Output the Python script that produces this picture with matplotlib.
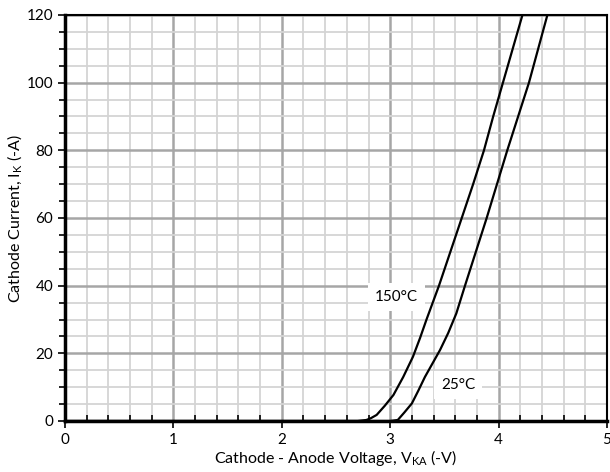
import numpy as np
from matplotlib import pyplot as plt
from matplotlib.ticker import MultipleLocator

# 150 °C curve
v_150 = [0.0, 2.70, 2.78, 2.82, 2.875, 2.95, 3.03, 3.12, 3.21, 3.275, 3.335, 3.45,
         3.555, 3.66, 3.765, 3.865, 3.95, 4.04, 4.13, 4.22]
i_150 = [0.0, 0.0, 0.3, 0.8, 1.8, 4.5, 7.7, 13.0, 19.0, 24.5, 30.0, 40.0,
         50.0, 60.0, 70.0, 80.0, 90.0, 100.0, 110.0, 120.0]

# 25 °C curve
v_25 = [0.0, 3.00, 3.07, 3.13, 3.20, 3.26, 3.32, 3.39, 3.46, 3.535, 3.61, 3.69,
        3.79, 3.89, 3.985, 4.08, 4.18, 4.28, 4.365, 4.45]
i_25 = [0.0, 0.0, 0.3, 2.5, 5.2, 9.0, 13.0, 17.0, 21.0, 26.0, 31.8, 40.0,
        50.0, 60.0, 70.0, 80.0, 90.0, 100.0, 110.0, 120.0]

plt.rcParams['font.family'] = ['Lato', 'DejaVu Sans']
plt.rcParams['mathtext.fontset'] = 'custom'
plt.rcParams['mathtext.rm'] = 'Lato'

fig = plt.figure(figsize=(6.1, 4.72), dpi=100)
ax = fig.add_axes([65 / 610, 51 / 472, 542 / 610, 406 / 472])

ax.plot(v_150, i_150, color='black', lw=1.6, zorder=3)
ax.plot(v_25, i_25, color='black', lw=1.6, zorder=3)

ax.set_xlim(0, 5)
ax.set_ylim(0, 120)
ax.xaxis.set_major_locator(MultipleLocator(1))
ax.xaxis.set_minor_locator(MultipleLocator(0.2))
ax.yaxis.set_major_locator(MultipleLocator(20))
ax.yaxis.set_minor_locator(MultipleLocator(5))

# сетка
ax.grid(True, which='major', color='#a6a6a6', lw=1.8, zorder=1)
ax.grid(True, which='minor', color='#d4d4d4', lw=1.3, zorder=0)
ax.set_axisbelow(True)

for side in ['left', 'bottom']:
    ax.spines[side].set_linewidth(2.5)
for side in ['top', 'right']:
    ax.spines[side].set_linewidth(1.5)

ax.tick_params(which='both', direction='out', color='black', width=1.2, labelsize=11)
ax.tick_params(which='major', length=5)
ax.tick_params(which='minor', length=4)
ax.tick_params(axis='x', which='minor', direction='in')

ax.text(3.06, 36.7, '150°C', fontsize=11, ha='center', va='center',
        bbox=dict(facecolor='white', edgecolor='none', pad=5), zorder=4)
ax.text(3.63, 10.6, '25°C', fontsize=11, ha='center', va='center',
        bbox=dict(facecolor='white', edgecolor='none', pad=5), zorder=4)

ax.set_xlabel(r'Cathode - Anode Voltage, V$_{\mathregular{KA}}$ (-V)', fontsize=11.5, labelpad=1)
ax.set_ylabel(r'Cathode Current, I$_{\mathregular{K}}$ (-A)', fontsize=11.5, labelpad=1)

plt.savefig('out.png', dpi=100)
